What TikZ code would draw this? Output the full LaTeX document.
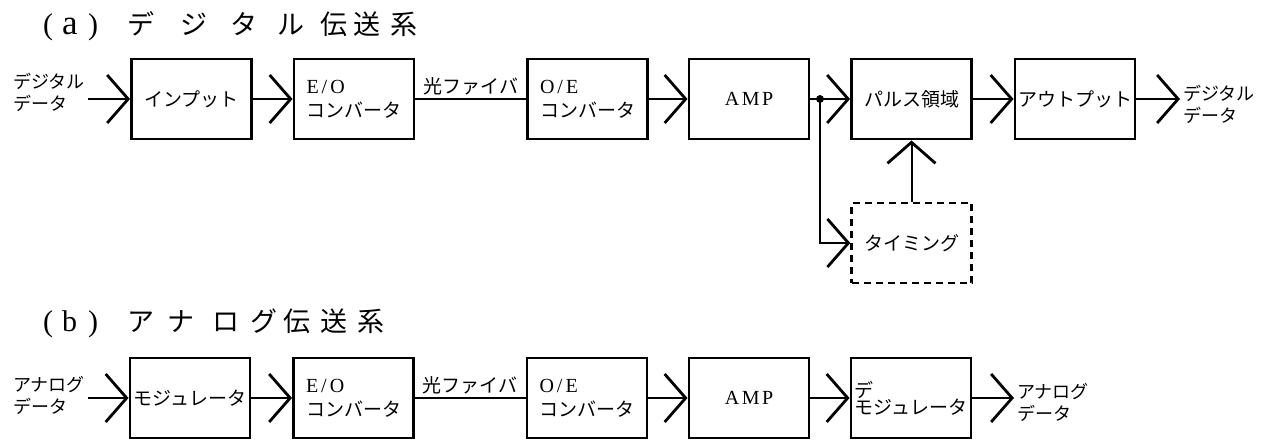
\documentclass[tikz,border=0pt]{standalone}
\usepackage{fontspec}
\setmainfont{Liberation Serif}
\newfontfamily\jp{Noto Sans CJK JP}
\usetikzlibrary{arrows.meta}
\newcommand\gw[2]{\makebox[#1pt][l]{#2}}
\newcommand\lt{\fontsize{30}{30}\selectfont}
\newcommand\ltt{\fontsize{35}{35}\selectfont}
\newcommand\jt{\jp\fontsize{27}{27}\selectfont}
\newcommand\eo[3]{{\rmfamily\fontsize{20}{24}\selectfont #1\hspace{3pt}#2\hspace{3pt}#3}}
\begin{document}
\begin{tikzpicture}[x=1pt,y=-1pt,
  box/.style={draw,line width=2.9pt,minimum width=120pt,minimum height=80pt,inner sep=0pt,align=left,font=\jp\fontsize{19}{24}\selectfont},
  dbox/.style={box,line width=2.4pt,dash pattern=on 7pt off 5pt},
  lab/.style={inner sep=3pt,align=left,font=\jp\fontsize{18}{22}\selectfont},
  flab/.style={inner sep=3pt,font=\jp\fontsize{19}{22}\selectfont},
  title/.style={inner sep=0pt,anchor=base west},
  lat/.style={font=\rmfamily\fontsize{20}{24}\selectfont},
  conn/.style={line width=2pt},
  arr/.style={conn,-{Straight Barb[length=21pt,width=48pt,line width=2.8pt]}},
  dot/.style={circle,fill,draw,line width=0.8pt,inner sep=0pt,minimum size=7pt}]
\useasboundingbox (0,0) rectangle (1275,444);

% ---------- (a) ----------
\node[title] (ta) at (43,35) {\gw{19}{\lt(}\gw{26}{\ltt a}\gw{39}{\lt)}\gw{53}{\jt デ}\gw{50}{\jt ジ}\gw{47}{\jt タ}\gw{43}{\jt ル}\gw{33}{\jt 伝}\gw{37}{\jt 送}{\jt 系}};

\node[lab,anchor=east] (li) at (88,92) {デジタル\\データ};
\node[box] (inp) at (191.5,99) {インプット};
\node[box] (eo)  at (354,99) {\eo{E}{/}{O}\\コンバータ};
\node[box] (oe)  at (587.5,99) {\eo{O}{/}{E}\\コンバータ};
\node[box,lat] (amp) at (749,99) {A\hspace{2.5pt}M\hspace{2.5pt}P};
\node[box] (pul) at (911.5,99) {パルス領域};
\node[box] (out) at (1075,99) {アウトプット};
\node[dbox] (tim) at (911.5,243) {タイミング};
\node[lab,anchor=west] (lo) at (1180,104) {デジタル\\データ};
\node[dot] (j) at (820,99) {};

\draw[arr] (li.east |- inp.west) -- (inp.west);
\draw[arr] (inp) -- (eo);
\draw[conn] (eo) -- node[flab,above] (f1) {光ファイバ} (oe);
\draw[arr] (oe) -- (amp);
\draw[arr] (amp) -- (pul);
\draw[arr] (j.center) |- (tim.west);
\draw[arr] (tim) -- (pul);
\draw[arr] (pul) -- (out);
\draw[arr] (out.east) -- (out.east -| lo.west);

% ---------- (b) ----------
\node[title] (tb) at (43,331) {\gw{19}{\lt(}\gw{26}{\lt b}\gw{39}{\lt)}\gw{40}{\jt ア}\gw{45}{\jt ナ}\gw{38}{\jt ロ}\gw{33}{\jt グ}\gw{37}{\jt 伝}\gw{37}{\jt 送}{\jt 系}};

\node[lab,anchor=east] (li2) at (88,395) {アナログ\\データ};
\node[box] (mod)  at (190,398) {モジュレータ};
\node[box] (eo2)  at (353.5,398) {\eo{E}{/}{O}\\コンバータ};
\node[box] (oe2)  at (587,398) {\eo{O}{/}{E}\\コンバータ};
\node[box,lat] (amp2) at (749,398) {A\hspace{2.5pt}M\hspace{2.5pt}P};
\node[box,font=\jp\fontsize{19}{17}\selectfont] (dem) at (911,398) {デ\\モジュレータ};
\node[lab,anchor=west] (lo2) at (1014,402) {アナログ\\データ};

\draw[arr] (li2.east |- mod.west) -- (mod.west);
\draw[arr] (mod) -- (eo2);
\draw[conn] (eo2) -- node[flab,above] (f2) {光ファイバ} (oe2);
\draw[arr] (oe2) -- (amp2);
\draw[arr] (amp2) -- (dem);
\draw[arr] (dem.east) -- (dem.east -| lo2.west);
\end{tikzpicture}
\end{document}
